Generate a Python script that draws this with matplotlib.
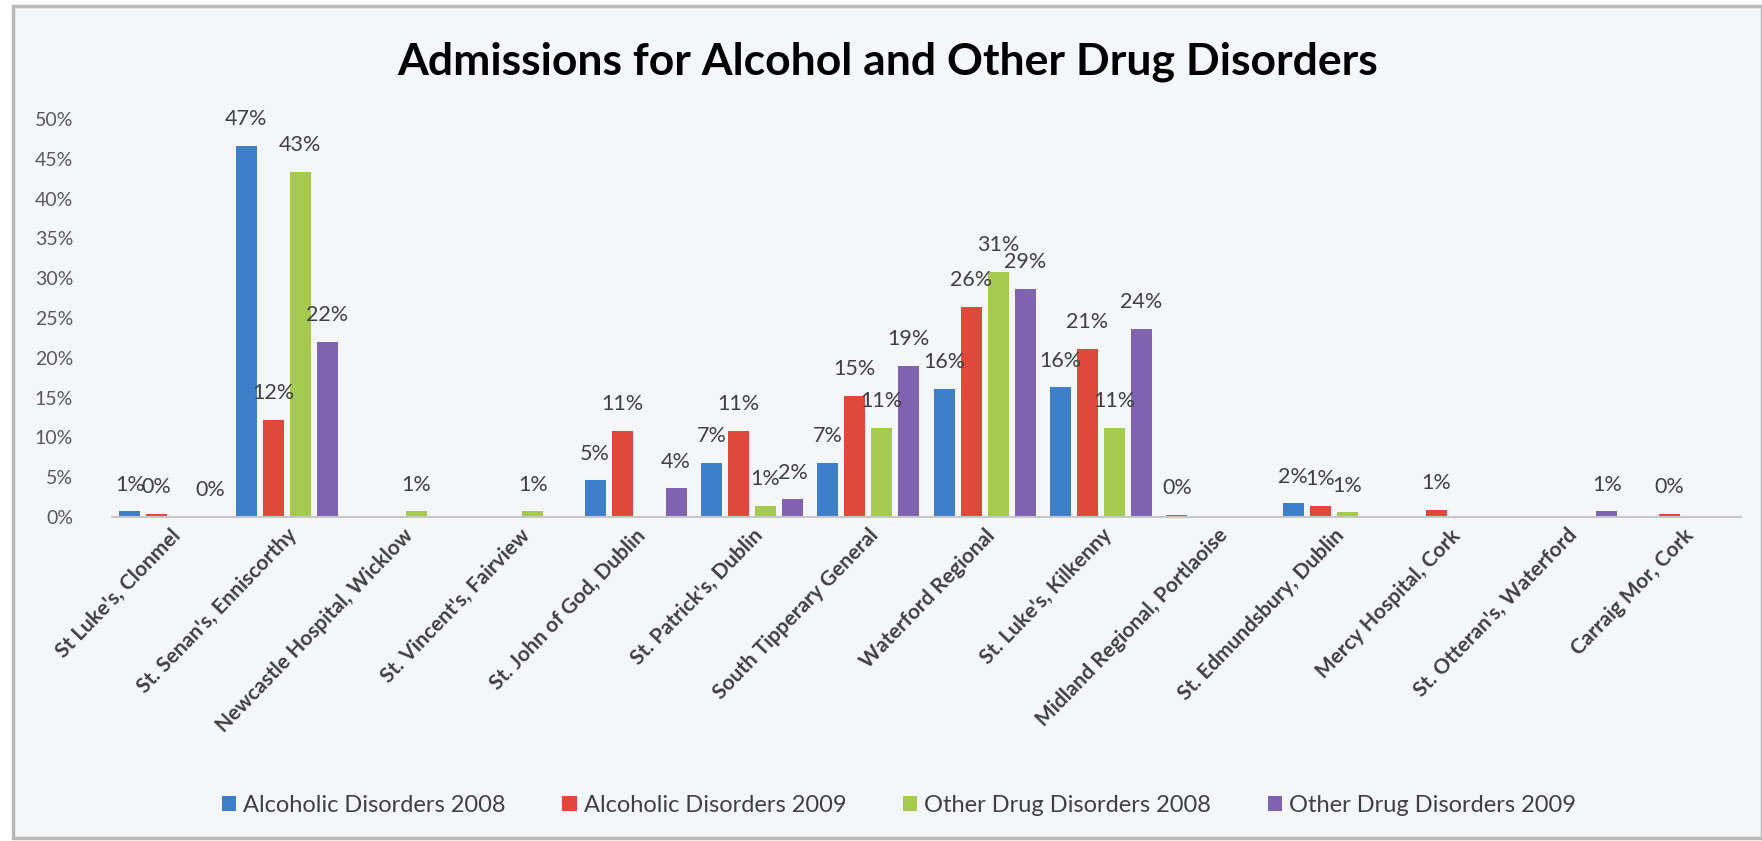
import numpy as np
import matplotlib
matplotlib.use("Agg")
import matplotlib.pyplot as plt
import matplotlib.transforms as mtransforms
from matplotlib.patches import Patch, Rectangle

plt.rcParams['font.family'] = ['Lato', 'DejaVu Sans']

nan = np.nan
hospitals = ["St Luke's, Clonmel", "St. Senan's, Enniscorthy", "Newcastle Hospital, Wicklow",
             "St. Vincent's, Fairview", "St. John of God, Dublin", "St. Patrick's, Dublin",
             "South Tipperary General", "Waterford Regional", "St. Luke's, Kilkenny",
             "Midland Regional, Portlaoise", "St. Edmundsbury, Dublin", "Mercy Hospital, Cork",
             "St. Otteran's, Waterford", "Carraig Mor, Cork"]

# percentages (nan = no bar / no label)
alc_2008 = [0.7, 46.6, nan, nan, 4.6, 6.8, 6.8, 16.1, 16.3, 0.3, 1.7, nan, nan, nan]
alc_2009 = [0.4, 12.2, nan, nan, 10.8, 10.8, 15.2, 26.4, 21.1, nan, 1.4, 0.9, nan, 0.4]
drug_2008 = [nan, 43.4, 0.7, 0.7, nan, 1.4, 11.2, 30.8, 11.2, nan, 0.6, nan, nan, nan]
drug_2009 = [0.0, 22.0, nan, nan, 3.6, 2.2, 19.0, 28.7, 23.6, nan, nan, nan, 0.7, nan]

series_names = ["Alcoholic Disorders 2008", "Alcoholic Disorders 2009",
                "Other Drug Disorders 2008", "Other Drug Disorders 2009"]
colors = ["#3d7fc9", "#e0483a", "#a6c94f", "#7f62b0"]

bg = "#f4f6f9"
fig = plt.figure(figsize=(17.62, 8.41), dpi=100)
fig.patch.set_facecolor("white")
# chart frame
fig.patches.append(Rectangle((13 / 1762, 0.003), 1 - 13 / 1762, 1 - 6 / 841 - 0.003,
                             transform=fig.transFigure, facecolor=bg,
                             edgecolor="#bdb8b8", linewidth=2.5, zorder=-10))

ax = fig.add_axes([112 / 1762, 1 - 517 / 841, (1741 - 112) / 1762, (517 - 119) / 841])
ax.set_facecolor(bg)

x = np.arange(len(hospitals))
step = 0.232
width = 0.18
for i, (vals, c) in enumerate(zip([alc_2008, alc_2009, drug_2008, drug_2009], colors)):
    v = np.array(vals, dtype=float)
    pos = x + (i - 1.5) * step
    ax.bar(pos, np.nan_to_num(v), width=width, color=c, zorder=2)
    for px, val in zip(pos, v):
        if np.isnan(val):
            continue
        ax.annotate(f"{int(val + 0.5)}%", (px, val), xytext=(0, 12), textcoords="offset points",
                    ha="center", va="bottom", fontsize=15.5, color="#404040", zorder=3)

ax.set_xlim(-0.5, len(hospitals) - 0.5)
ax.set_ylim(0, 50)
ax.set_yticks(np.arange(0, 51, 5))
ax.set_yticklabels([f"{t}%" for t in range(0, 51, 5)], fontsize=14, color="#595959")
ax.set_xticks(x)
ax.set_xticklabels(hospitals, rotation=46, ha="right", va="top", rotation_mode="anchor",
                   fontsize=15, fontweight="bold", color="#404040")
shift = mtransforms.ScaledTranslation(-0.2, 0, fig.dpi_scale_trans)
for lab in ax.get_xticklabels():
    lab.set_transform(lab.get_transform() + shift)
ax.tick_params(axis="x", length=0, pad=6)
ax.tick_params(axis="y", length=0, pad=28)
for s in ["top", "right", "left"]:
    ax.spines[s].set_visible(False)
ax.spines["bottom"].set_color("#c8c8c8")
ax.spines["bottom"].set_linewidth(1.5)

fig.text(888 / 1762, 1 - 62 / 841, "Admissions for Alcohol and Other Drug Disorders",
         ha="center", va="center", fontsize=32, fontweight="bold", color="black")

handles = [Patch(facecolor=c, label=n) for c, n in zip(colors, series_names)]
fig.legend(handles=handles, loc="center", bbox_to_anchor=(899 / 1762, 1 - 805 / 841), ncol=4,
           frameon=False, fontsize=17, handlelength=0.6, handleheight=0.6, handletextpad=0.3,
           columnspacing=2.4, labelcolor="#404040")

fig.savefig("out.png", dpi=100, facecolor="white")
